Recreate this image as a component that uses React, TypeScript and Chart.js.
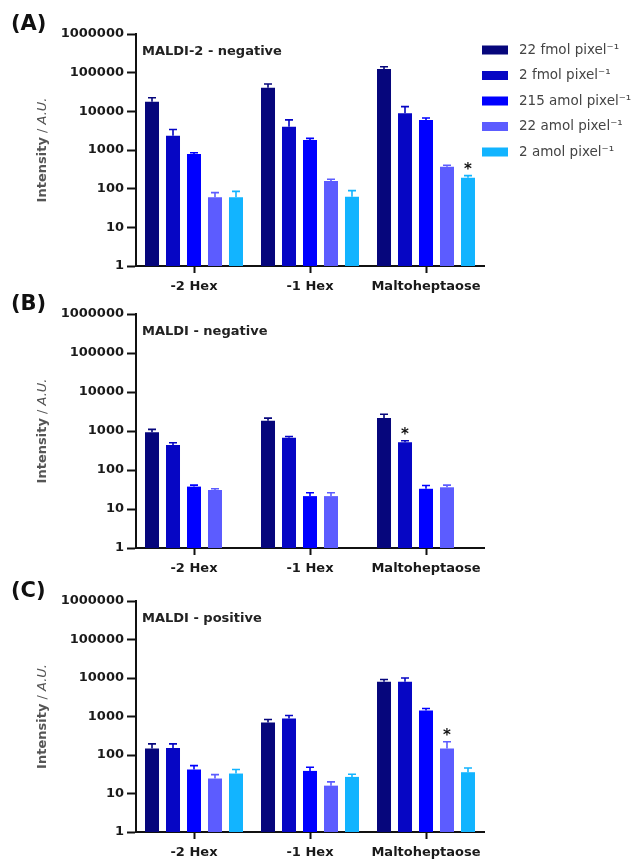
import React, { useEffect, useRef } from 'react';
import { Chart, registerables } from 'chart.js';

Chart.register(...registerables);

const FONT = '"DejaVu Sans", "Liberation Sans", Arial, sans-serif';

// ---------------- data ----------------
const categories = ['-2 Hex', '-1 Hex', 'Maltoheptaose'];
const seriesLabels = [
  '22 fmol pixel\u207B\u00B9',
  '2 fmol pixel\u207B\u00B9',
  '215 amol pixel\u207B\u00B9',
  '22 amol pixel\u207B\u00B9',
  '2 amol pixel\u207B\u00B9',
];
const seriesColors = ['#06067c', '#0606c4', '#0000ff', '#5c5cff', '#12b4ff'];
const yTickValues = [1, 10, 100, 1000, 10000, 100000, 1000000];

// Panel A: MALDI-2 - negative (mean values, upper error)
const a22fmol = [17800, 41000, 124000];
const a2fmol = [2340, 4000, 8900];
const a215amol = [790, 1820, 6000];
const a22amol = [60, 158, 370];
const a2amol = [60, 62, 192];
const a22fmolErr = [4700, 10000, 18000];
const a2fmolErr = [1060, 2000, 4300];
const a215amolErr = [60, 180, 700];
const a22amolErr = [19, 17, 35];
const a2amolErr = [25, 27, 25];

// Panel B: MALDI - negative
const b22fmol = [923, 1820, 2140];
const b2fmol = [440, 670, 515];
const b215amol = [37.5, 21.4, 33];
const b22amol = [30.7, 21.4, 36];
const b2amol = [null, null, null];
const b22fmolErr = [180, 320, 540];
const b2fmolErr = [60, 50, 45];
const b215amolErr = [3.5, 4.6, 7];
const b22amolErr = [2.3, 4.6, 5];
const b2amolErr = [null, null, null];

// Panel C: MALDI - positive
const c22fmol = [147, 700, 7980];
const c2fmol = [153, 890, 7980];
const c215amol = [42, 38.6, 1440];
const c22amol = [24.5, 16, 147];
const c2amol = [33, 27, 35.7];
const c22fmolErr = [48, 135, 1170];
const c2fmolErr = [42, 170, 2000];
const c215amolErr = [11, 9.4, 180];
const c22amolErr = [6.5, 4, 73];
const c2amolErr = [9, 4.6, 10.3];

const panelLetters = ['(A)', '(B)', '(C)'];
const panelTitles = ['MALDI-2 - negative', 'MALDI - negative', 'MALDI - positive'];
// significance markers: [categoryIndex, seriesIndex]
const aStars = [[2, 4]];
const bStars = [[2, 1]];
const cStars = [[2, 3]];

type Panel = {
  letter: string;
  title: string;
  values: (number | null)[][];
  errors: (number | null)[][];
  stars: number[][];
  top: number;
  areaTop: number;
  areaBottom: number;
  legend: boolean;
};

const panels: Panel[] = [
  {
    letter: panelLetters[0], title: panelTitles[0],
    values: [a22fmol, a2fmol, a215amol, a22amol, a2amol],
    errors: [a22fmolErr, a2fmolErr, a215amolErr, a22amolErr, a2amolErr],
    stars: aStars, top: 0, areaTop: 34, areaBottom: 266, legend: true,
  },
  {
    letter: panelLetters[1], title: panelTitles[1],
    values: [b22fmol, b2fmol, b215amol, b22amol, b2amol],
    errors: [b22fmolErr, b2fmolErr, b215amolErr, b22amolErr, b2amolErr],
    stars: bStars, top: 280, areaTop: 314, areaBottom: 548, legend: false,
  },
  {
    letter: panelLetters[2], title: panelTitles[2],
    values: [c22fmol, c2fmol, c215amol, c22amol, c2amol],
    errors: [c22fmolErr, c2fmolErr, c215amolErr, c22amolErr, c2amolErr],
    stars: cStars, top: 560, areaTop: 601, areaBottom: 832, legend: false,
  },
];

const CANVAS_W = 633;
const CANVAS_H = 300;
const PLOT_LEFT = 136;
const PLOT_RIGHT = 484;

function makeDecorPlugin(p: Panel) {
  return {
    id: 'decor',
    afterDatasetsDraw(chart: any) {
      const ctx = chart.ctx as CanvasRenderingContext2D;
      const yScale = chart.scales.y;
      ctx.save();
      // error bars
      chart.data.datasets.forEach((ds: any, i: number) => {
        const meta = chart.getDatasetMeta(i);
        const errs = p.errors[i];
        meta.data.forEach((el: any, j: number) => {
          const v = ds.data[j];
          const e = errs[j];
          if (v == null || e == null) return;
          const yTop = yScale.getPixelForValue(v + e);
          ctx.strokeStyle = ds.backgroundColor;
          ctx.lineWidth = 1.6;
          ctx.beginPath();
          ctx.moveTo(el.x, el.y);
          ctx.lineTo(el.x, yTop);
          ctx.moveTo(el.x - 4, yTop);
          ctx.lineTo(el.x + 4, yTop);
          ctx.stroke();
        });
      });
      // stars
      p.stars.forEach(([c, s]) => {
        const el = chart.getDatasetMeta(s).data[c];
        const v = chart.data.datasets[s].data[c];
        const e = p.errors[s][c] || 0;
        const yTop = yScale.getPixelForValue(v + e);
        ctx.fillStyle = '#111';
        ctx.font = `bold 15px ${FONT}`;
        ctx.textAlign = 'center';
        ctx.textBaseline = 'middle';
        ctx.fillText('*', el.x, yTop - 6);
      });
      ctx.restore();
    },
    afterDraw(chart: any) {
      const ctx = chart.ctx as CanvasRenderingContext2D;
      const area = chart.chartArea;
      ctx.save();
      // panel letter
      ctx.fillStyle = '#111';
      ctx.font = `bold 21px ${FONT}`;
      ctx.textAlign = 'left';
      ctx.textBaseline = 'middle';
      ctx.fillText(p.letter, 11, area.top - 9);
      // panel title
      ctx.font = `bold 13px ${FONT}`;
      ctx.fillStyle = '#222';
      ctx.fillText(p.title, area.left + 6, area.top + 18);
      // y title with italic unit
      const parts = [
        { t: 'Intensity', f: `bold 13px ${FONT}` },
        { t: ' / ', f: `13px ${FONT}` },
        { t: 'A.U.', f: `italic 13px ${FONT}` },
      ];
      let total = 0;
      parts.forEach((pt) => { ctx.font = pt.f; total += ctx.measureText(pt.t).width; });
      ctx.translate(43, (area.top + area.bottom) / 2);
      ctx.rotate(-Math.PI / 2);
      ctx.fillStyle = '#555';
      let x = -total / 2;
      parts.forEach((pt) => {
        ctx.font = pt.f;
        ctx.fillText(pt.t, x, 0);
        x += ctx.measureText(pt.t).width;
      });
      ctx.setTransform(1, 0, 0, 1, 0, 0);
      // legend
      if (p.legend) {
        ctx.font = `13.5px ${FONT}`;
        ctx.textBaseline = 'middle';
        chart.data.datasets.forEach((ds: any, i: number) => {
          const cy = 50 + i * 25.5;
          ctx.fillStyle = ds.backgroundColor;
          ctx.fillRect(482, cy - 4.5, 26, 9);
          ctx.fillStyle = '#444';
          ctx.fillText(ds.label, 519, cy);
        });
      }
      ctx.restore();
    },
  };
}

function PanelChart({ p }: { p: Panel }) {
  const ref = useRef<HTMLCanvasElement | null>(null);
  useEffect(() => {
    if (!ref.current) return;
    const xAxisHeight = p.top + CANVAS_H - p.areaBottom;
    const chart = new Chart(ref.current, {
      type: 'bar',
      data: {
        labels: categories,
        datasets: p.values.map((vals, i) => ({
          label: seriesLabels[i],
          data: vals as any,
          backgroundColor: seriesColors[i],
          borderWidth: 0,
          categoryPercentage: 0.905,
          barPercentage: 0.667,
        })),
      },
      options: {
        responsive: false,
        animation: false,
        devicePixelRatio: 1,
        layout: { padding: { top: p.areaTop - p.top, right: CANVAS_W - PLOT_RIGHT, left: 0, bottom: 0 } },
        plugins: { legend: { display: false }, tooltip: { enabled: false }, title: { display: false } },
        scales: {
          x: {
            type: 'category',
            offset: true,
            grid: { display: true, drawOnChartArea: false, offset: false, tickLength: 7, tickWidth: 2, tickColor: '#111' },
            border: { display: true, color: '#111', width: 2 },
            ticks: { color: '#1a1a1a', font: { family: FONT, size: 13, weight: 'bold' }, padding: 6, maxRotation: 0, autoSkip: false },
            afterFit: (s: any) => { s.height = xAxisHeight; },
          },
          y: {
            type: 'logarithmic',
            min: 1,
            max: 1000000,
            afterBuildTicks: (s: any) => { s.ticks = yTickValues.map((v) => ({ value: v })); },
            grid: { display: true, drawOnChartArea: false, tickLength: 9, tickWidth: 2, tickColor: '#111' },
            border: { display: true, color: '#111', width: 2 },
            ticks: {
              color: '#1a1a1a',
              font: { family: FONT, size: 13, weight: 'bold' },
              padding: 3,
              autoSkip: false,
              callback: (v: any) => String(v),
            },
            afterFit: (s: any) => { s.width = PLOT_LEFT; },
          },
        },
      } as any,
      plugins: [makeDecorPlugin(p)],
    });
    return () => chart.destroy();
  }, [p]);
  return (
    <canvas
      ref={ref}
      width={CANVAS_W}
      height={CANVAS_H}
      style={{ position: 'absolute', left: 0, top: p.top, width: CANVAS_W, height: CANVAS_H, display: 'block' }}
    />
  );
}

export default function App() {
  return (
    <div style={{ position: 'absolute', left: 0, top: 0, width: CANVAS_W, height: 860, background: '#fff', overflow: 'hidden' }}>
      {panels.map((p, i) => (
        <PanelChart key={i} p={p} />
      ))}
    </div>
  );
}
